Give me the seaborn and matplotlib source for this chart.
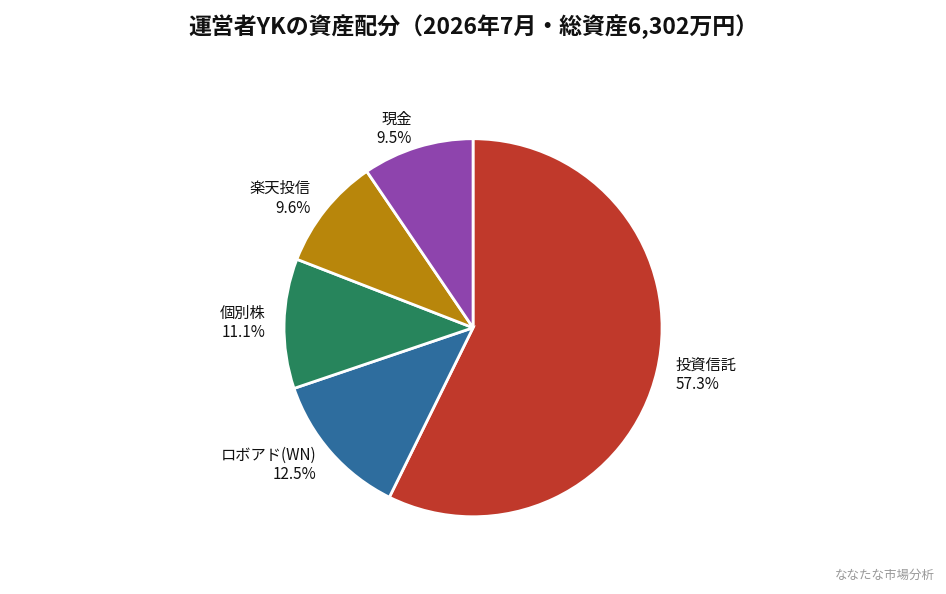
import matplotlib
matplotlib.use("Agg")
import matplotlib.pyplot as plt
import seaborn as sns

sns.set_theme(style="white")
plt.rcParams['font.family'] = ['Noto Sans CJK JP', 'DejaVu Sans']

# 資産配分 (%)
labels = ["投資信託", "ロボアド(WN)", "個別株", "楽天投信", "現金"]
shares = [57.3, 12.5, 11.1, 9.6, 9.5]
colors = ["#C0392B", "#2E6D9E", "#27855C", "#B8860B", "#8E44AD"]

title = "運営者YKの資産配分（2026年7月・総資産6,302万円）"
credit = "ななたな市場分析"

pie_labels = [f"{n}\n{s:.1f}%" for n, s in zip(labels, shares)]

fig = plt.figure(figsize=(9.46, 5.94), dpi=100)
ax = fig.add_axes([0.2503, 0.0505, 0.4995, 0.7955])
ax.pie(shares, labels=pie_labels, colors=colors, startangle=90,
       counterclock=False, labeldistance=1.1,
       wedgeprops=dict(edgecolor="white", linewidth=2),
       textprops=dict(fontsize=11, color="#111111"))
ax.set_aspect("equal")

fig.suptitle(title, fontsize=16.5, fontweight="bold", color="#111111", y=0.975)
fig.text(0.988, 0.02, credit, ha="right", va="bottom", fontsize=9, color="#999999")

fig.savefig("out.png", dpi=100)
